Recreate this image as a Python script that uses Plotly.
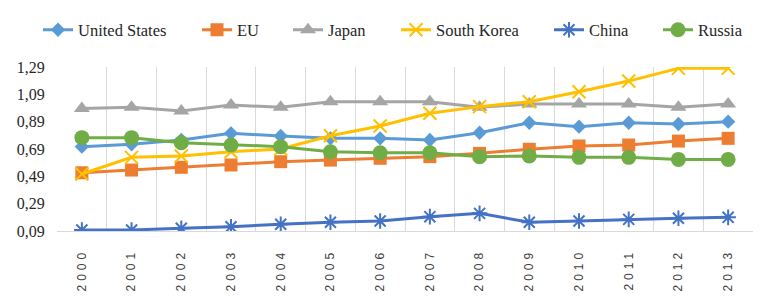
import plotly.graph_objects as go

years = [str(y) for y in range(2000, 2014)]
united_states = [0.707, 0.724, 0.756, 0.805, 0.785, 0.768, 0.768, 0.756, 0.809, 0.882, 0.853, 0.882, 0.873, 0.890]
eu = [0.516, 0.536, 0.556, 0.573, 0.597, 0.609, 0.622, 0.634, 0.658, 0.688, 0.712, 0.719, 0.748, 0.768]
japan = [0.987, 0.995, 0.968, 1.012, 0.995, 1.036, 1.036, 1.036, 0.995, 1.019, 1.019, 1.019, 0.995, 1.019]
south_korea = [0.507, 0.629, 0.639, 0.670, 0.690, 0.787, 0.858, 0.951, 1.000, 1.036, 1.109, 1.187, 1.280, 1.280]
china = [0.097, 0.097, 0.110, 0.121, 0.139, 0.154, 0.163, 0.195, 0.219, 0.154, 0.163, 0.175, 0.183, 0.190]
russia = [0.773, 0.773, 0.736, 0.719, 0.707, 0.670, 0.663, 0.663, 0.634, 0.639, 0.629, 0.629, 0.614, 0.614]
y_ticks = [0.09, 0.29, 0.49, 0.69, 0.89, 1.09, 1.29]

# name, values, color, symbol, size, marker line width, legend text start (px)
series = [
    ("United States", united_states, "#5B9BD5", "diamond", 11, 0, 78),
    ("EU", eu, "#ED7D31", "square", 13, 0, 237),
    ("Japan", japan, "#A5A5A5", "triangle-up", 14, 0, 328),
    ("South Korea", south_korea, "#FFC000", "x-thin-open", 13, 2, 436),
    ("China", china, "#4472C4", "asterisk-open", 13, 2, 589),
    ("Russia", russia, "#70AD47", "circle", 15, 0, 698),
]

W, H = 777, 298
serif = "Liberation Serif"

fig = go.Figure()
legends = {}
for i, (name, vals, color, sym, size, lw, tx) in enumerate(series):
    lname = "legend" if i == 0 else f"legend{i + 1}"
    fig.add_trace(go.Scatter(
        x=years, y=vals, name=name, mode="lines+markers",
        line=dict(color=color, width=3),
        marker=dict(symbol=sym, size=size, color=color, line=dict(color=color, width=lw)),
        legend=lname,
    ))
    legends[lname] = dict(
        xref="container", yref="container",
        x=(tx - 40) / W, xanchor="left",
        y=1 - 30 / H, yanchor="middle",
        orientation="h", bgcolor="rgba(0,0,0,0)",
        font=dict(family=serif, size=16.5, color="#262626"),
    )

fig.update_layout(
    width=W, height=H,
    margin=dict(l=57, r=24, t=67, b=67, autoexpand=False),
    paper_bgcolor="white", plot_bgcolor="white",
    separators=", ",
    showlegend=True,
    xaxis=dict(type="category", range=[-0.5, 13.5], tickson="boundaries",
               showgrid=True, gridcolor="#D9D9D9", gridwidth=1,
               showline=True, linecolor="#D9D9D9", linewidth=1, ticks="",
               tickangle=-90, ticklabelstandoff=12,
               tickfont=dict(family="Liberation Sans", size=12, color="#404040")),
    yaxis=dict(range=[0.09, 1.29], tickvals=y_ticks, tickformat=".2f",
               showgrid=False, zeroline=False, showline=False,
               ticks="outside", ticklen=8, tickcolor="rgba(0,0,0,0)",
               tickfont=dict(family=serif, size=16, color="#262626")),
    **legends,
)

post = """
document.body.style.margin='0';
function spaceTicks(){document.querySelectorAll('.xtick text').forEach(function(t){t.style.letterSpacing='4px';});}
spaceTicks(); setTimeout(spaceTicks, 50); setTimeout(spaceTicks, 300);
"""
fig.write_html("out.html", post_script=post, config={"displayModeBar": False})
